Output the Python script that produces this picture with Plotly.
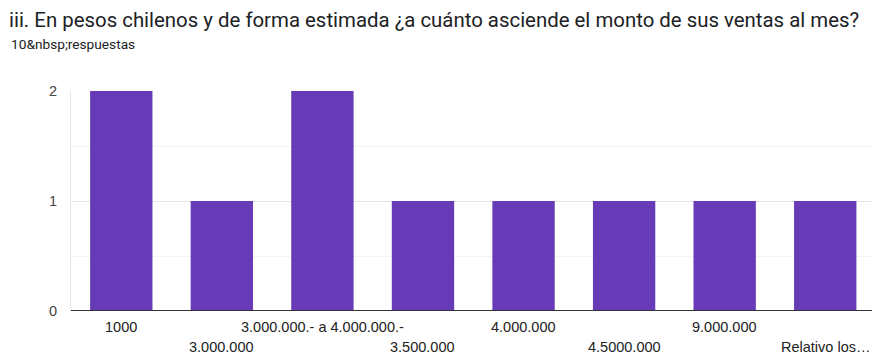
import plotly.graph_objects as go

categories = ["1000", "3.000.000", "3.000.000.- a 4.000.000.-", "3.500.000",
              "4.000.000", "4.5000.000", "9.000.000", "Relativo los…"]
counts = [2, 1, 2, 1, 1, 1, 1, 1]
title_text = "iii. En pesos chilenos y de forma estimada ¿a cuánto asciende el monto de sus ventas al mes?"
subtitle_text = "10&amp;nbsp;respuestas"

xs = list(range(len(categories)))

fig = go.Figure()
fig.add_trace(go.Bar(x=xs, y=counts, marker=dict(color="#673ab7", line=dict(width=0)),
                     hoverinfo="skip"))

annotations = [
    dict(text=title_text, x=0, y=1, xref="paper", yref="paper", xanchor="left", yanchor="top",
         xshift=-64, yshift=85, showarrow=False,
         font=dict(family="Roboto", size=20.4, color="#202124")),
    dict(text=subtitle_text, x=0, y=1, xref="paper", yref="paper", xanchor="left", yanchor="top",
         xshift=-62, yshift=57, showarrow=False,
         font=dict(family="Roboto", size=13.7, color="#202124")),
]
for i, c in enumerate(categories):
    annotations.append(dict(text=c, x=i, y=0, xref="x", yref="paper", xanchor="center",
                            yanchor="middle", yshift=-16 if i % 2 == 0 else -36,
                            showarrow=False,
                            font=dict(family="Arial, Liberation Sans", size=14.5, color="#222222")))

fig.update_layout(
    width=872, height=354,
    margin=dict(l=71, r=0, t=91, b=43),
    paper_bgcolor="white", plot_bgcolor="white",
    bargap=0.38,
    showlegend=False,
    annotations=annotations,
    xaxis=dict(range=[-0.5, 7.465], showticklabels=False, showgrid=False, zeroline=False,
               ticks="", showline=False, fixedrange=True),
    yaxis=dict(range=[0, 2], tickvals=[0, 1, 2], ticktext=["0", "1", "2"],
               showgrid=True, gridcolor="#e6e6e6", gridwidth=1,
               minor=dict(dtick=0.5, tick0=0, showgrid=True, gridcolor="#f3f3f3", ticks=""),
               zeroline=False, showline=True, linecolor="#e6e6e6", linewidth=1,
               ticks="", ticklabelstandoff=10,
               tickfont=dict(family="Arial, Liberation Sans", size=14.5, color="#444444"),
               fixedrange=True),
    shapes=[dict(type="line", xref="paper", yref="y", x0=0, x1=1, y0=0, y1=0,
                 line=dict(color="#333333", width=2), layer="above")],
)

fig.write_html("out.html")
